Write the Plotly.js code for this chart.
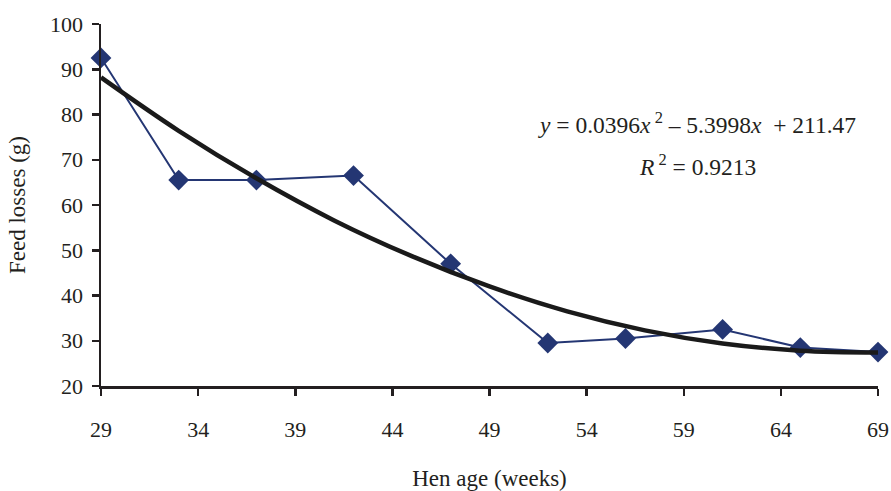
<!DOCTYPE html>
<html>
<head>
<meta charset="utf-8">
<script src="https://cdn.plot.ly/plotly-3.0.1.min.js"></script>
<style>html,body{margin:0;padding:0;background:#fff;}#chart{width:891px;height:491px;}</style>
</head>
<body>
<div id="chart"></div>
<script>
// Observed data
var henAge = [29, 33, 37, 42, 47, 52, 56, 61, 65, 69];
var feedLosses = [92.5, 65.5, 65.5, 66.5, 47, 29.5, 30.5, 32.5, 28.5, 27.5];
// Polynomial trend line
var trendAge = [29, 33, 37, 41, 45, 49, 53, 57, 61, 65, 69];
var trendLosses = [88.2, 76.4, 65.9, 56.6, 48.7, 42.0, 36.5, 32.3, 29.4, 27.8, 27.4];
var xTicks = [29, 34, 39, 44, 49, 54, 59, 64, 69];
var yTicks = [20, 30, 40, 50, 60, 70, 80, 90, 100];

var serif = 'Liberation Serif, Times New Roman, serif';
var ink = '#231f20';

var traces = [
  {
    x: henAge, y: feedLosses, type: 'scatter', mode: 'lines+markers',
    line: {color: '#243673', width: 2},
    marker: {symbol: 'diamond', size: 16, color: '#243673'},
    cliponaxis: false, hoverinfo: 'skip'
  },
  {
    x: trendAge, y: trendLosses, type: 'scatter', mode: 'lines',
    line: {color: '#1a1a1a', width: 4.5, shape: 'spline', smoothing: 1},
    cliponaxis: false, hoverinfo: 'skip'
  }
];

var layout = {
  width: 891, height: 491,
  margin: {l: 101, r: 13, t: 24, b: 105},
  paper_bgcolor: '#fff', plot_bgcolor: '#fff',
  showlegend: false,
  font: {family: serif, size: 22, color: ink},
  xaxis: {
    range: [29, 69], tickvals: xTicks, ticktext: xTicks.map(String),
    showgrid: false, zeroline: false,
    showline: true, linecolor: ink, linewidth: 2.5,
    ticks: 'outside', ticklen: 7, tickwidth: 2.5, tickcolor: ink,
    ticklabelstandoff: 15,
    tickfont: {family: serif, size: 22, color: ink},
    title: {text: 'Hen age (weeks)', font: {family: serif, size: 23, color: ink}, standoff: 30}
  },
  yaxis: {
    range: [20, 100], tickvals: yTicks, ticktext: yTicks.map(String),
    showgrid: false, zeroline: false,
    showline: true, linecolor: ink, linewidth: 2.5,
    ticks: 'outside', ticklen: 7, tickwidth: 2.5, tickcolor: ink,
    ticklabelstandoff: 4,
    tickfont: {family: serif, size: 22, color: ink},
    title: {text: 'Feed losses (g)', font: {family: serif, size: 23, color: ink}, standoff: 18}
  },
  annotations: [
    {
      xref: 'paper', yref: 'paper', x: (697 - 101) / 777, y: (386 - 123) / 362,
      text: '<i>y</i> = 0.0396<i>x</i><sup> 2</sup> \u2013 5.3998<i>x</i>  + 211.47',
      showarrow: false, xanchor: 'center', yanchor: 'middle',
      font: {family: serif, size: 23.5, color: ink}
    },
    {
      xref: 'paper', yref: 'paper', x: (697 - 101) / 777, y: (386 - 165) / 362,
      text: '<i>R</i><sup> 2</sup> = 0.9213',
      showarrow: false, xanchor: 'center', yanchor: 'middle',
      font: {family: serif, size: 23.5, color: ink}
    }
  ]
};

Plotly.newPlot('chart', traces, layout, {displayModeBar: false, staticPlot: true});
</script>
</body>
</html>
